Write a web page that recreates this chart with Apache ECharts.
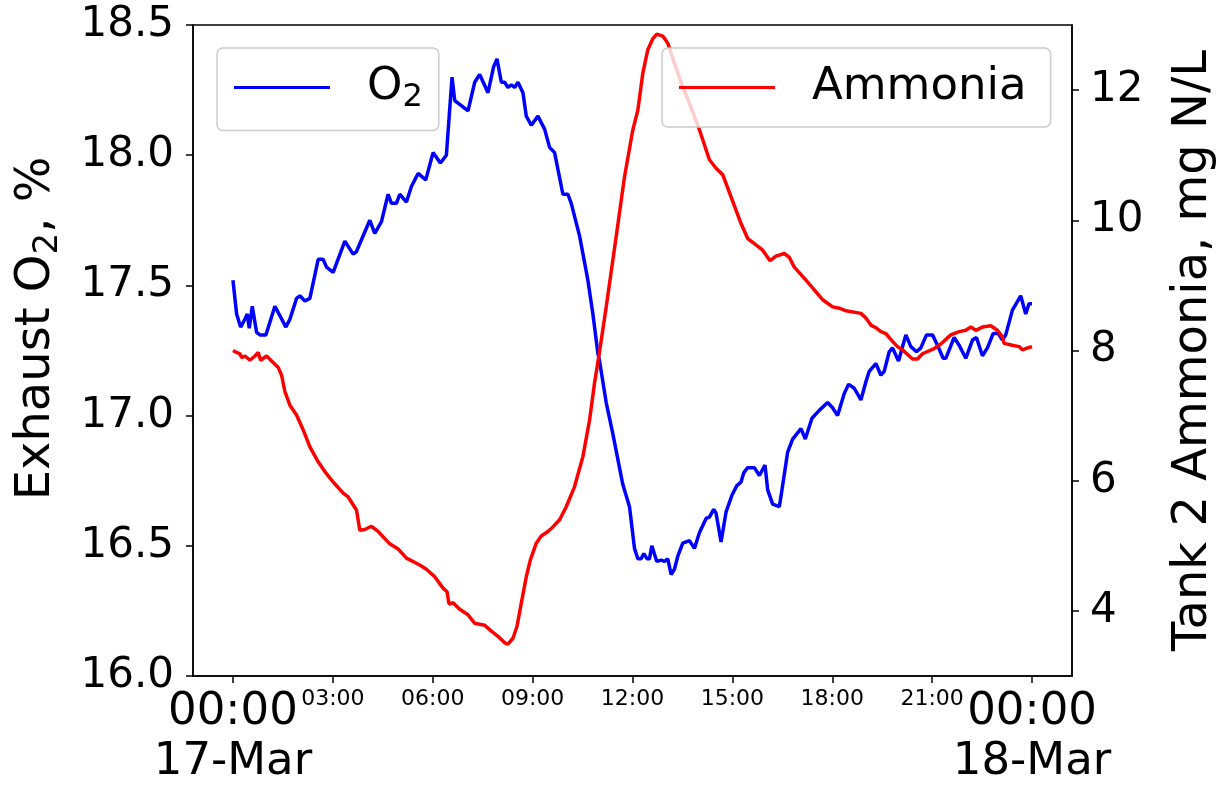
<!DOCTYPE html>
<html>
<head>
<meta charset="utf-8">
<script src="https://cdn.jsdelivr.net/npm/echarts@6/dist/echarts.min.js"></script>
<style>
html,body{margin:0;padding:0;background:#fff;}
#c{width:1227px;height:786px;}
</style>
</head>
<body>
<div id="c"></div>
<script>
// Hours since 00:00 17-Mar
var o2Hours = [0.00,0.11,0.23,0.36,0.43,0.49,0.58,0.71,0.81,0.99,1.26,1.59,1.71,1.91,2.01,2.16,2.31,2.56,2.71,2.81,3.01,3.36,3.61,3.71,4.11,4.26,4.46,4.66,4.76,4.91,5.01,5.21,5.36,5.56,5.79,6.01,6.23,6.41,6.58,6.66,6.86,7.06,7.26,7.41,7.66,7.83,7.93,8.06,8.16,8.26,8.36,8.46,8.56,8.71,8.81,8.96,9.16,9.36,9.51,9.66,9.91,10.06,10.16,10.41,10.66,10.81,10.96,11.01,11.21,11.41,11.71,11.91,12.06,12.16,12.26,12.34,12.44,12.51,12.58,12.73,12.86,12.96,13.06,13.16,13.26,13.36,13.51,13.71,13.86,14.01,14.21,14.31,14.44,14.51,14.66,14.81,14.99,15.13,15.26,15.34,15.46,15.66,15.81,15.98,16.06,16.21,16.41,16.49,16.66,16.81,17.06,17.19,17.39,17.61,17.86,18.01,18.16,18.36,18.49,18.66,18.86,19.01,19.11,19.31,19.46,19.56,19.71,19.81,19.99,20.21,20.36,20.53,20.66,20.83,21.01,21.16,21.33,21.41,21.66,21.81,22.01,22.21,22.33,22.51,22.66,22.83,22.99,23.11,23.21,23.41,23.66,23.81,23.91,24.00];
var o2Values = [17.52,17.39,17.34,17.37,17.39,17.335,17.42,17.32,17.31,17.31,17.42,17.34,17.37,17.45,17.46,17.44,17.45,17.60,17.60,17.57,17.55,17.67,17.62,17.63,17.75,17.70,17.745,17.85,17.815,17.815,17.85,17.82,17.88,17.93,17.905,18.01,17.97,18.00,18.30,18.21,18.19,18.17,18.28,18.31,18.24,18.34,18.37,18.28,18.28,18.26,18.27,18.26,18.28,18.24,18.15,18.115,18.15,18.10,18.03,18.01,17.85,17.85,17.815,17.69,17.52,17.39,17.24,17.21,17.05,16.93,16.735,16.65,16.49,16.45,16.45,16.47,16.45,16.45,16.50,16.44,16.445,16.44,16.45,16.39,16.41,16.46,16.51,16.52,16.49,16.55,16.605,16.61,16.64,16.625,16.515,16.63,16.695,16.73,16.745,16.78,16.80,16.80,16.77,16.81,16.715,16.66,16.65,16.715,16.86,16.91,16.95,16.91,16.99,17.02,17.05,17.03,17.00,17.085,17.12,17.105,17.06,17.13,17.17,17.20,17.155,17.17,17.245,17.26,17.21,17.31,17.265,17.245,17.26,17.31,17.31,17.27,17.22,17.22,17.30,17.27,17.22,17.29,17.30,17.23,17.26,17.315,17.315,17.29,17.31,17.405,17.46,17.39,17.43,17.43];

var nh3Hours = [0.00,0.11,0.21,0.26,0.36,0.51,0.66,0.76,0.83,1.01,1.16,1.36,1.46,1.56,1.71,1.91,2.11,2.31,2.56,2.76,3.01,3.31,3.46,3.71,3.81,3.96,4.16,4.36,4.71,4.96,5.21,5.61,5.81,6.06,6.31,6.43,6.49,6.61,6.81,7.06,7.26,7.56,7.76,7.96,8.16,8.26,8.41,8.53,8.66,8.81,8.93,9.11,9.26,9.46,9.61,9.81,10.01,10.26,10.51,10.71,10.86,11.01,11.21,11.51,11.76,12.01,12.16,12.31,12.46,12.61,12.73,12.91,13.06,13.26,13.51,13.71,14.01,14.31,14.51,14.71,14.96,15.26,15.46,15.66,15.91,16.13,16.31,16.56,16.71,16.86,17.21,17.51,17.71,18.01,18.21,18.41,18.86,19.01,19.16,19.31,19.46,19.61,19.81,19.96,20.11,20.41,20.56,20.71,21.06,21.26,21.56,21.81,22.01,22.16,22.31,22.51,22.76,22.96,23.11,23.16,23.41,23.61,23.71,23.81,24.00];
var nh3Values = [8.00,7.97,7.95,7.89,7.915,7.85,7.915,7.97,7.85,7.915,7.84,7.74,7.62,7.37,7.16,7.01,6.78,6.52,6.29,6.14,5.98,5.81,5.75,5.55,5.24,5.25,5.30,5.22,5.03,4.95,4.81,4.705,4.64,4.525,4.35,4.295,4.105,4.125,4.025,3.94,3.81,3.78,3.69,3.61,3.51,3.49,3.58,3.76,4.12,4.525,4.78,5.04,5.15,5.22,5.29,5.40,5.60,5.91,6.37,6.93,7.50,7.98,8.67,9.75,10.67,11.39,11.69,12.26,12.62,12.79,12.86,12.83,12.72,12.41,12.05,11.80,11.39,10.93,10.80,10.70,10.36,9.95,9.72,9.64,9.54,9.38,9.45,9.49,9.43,9.28,9.08,8.90,8.78,8.67,8.65,8.61,8.57,8.50,8.39,8.35,8.29,8.26,8.14,8.06,8.01,7.87,7.87,7.95,8.03,8.10,8.24,8.29,8.31,8.36,8.31,8.36,8.38,8.31,8.21,8.11,8.08,8.06,8.01,8.03,8.06];

var xTickHours = [0,3,6,9,12,15,18,21,24];
var xMajorHours = [0,24];
var xMajorLabels = ['00:00\n17-Mar','00:00\n18-Mar'];
var xMinorHours = [3,6,9,12,15,18,21];
var xMinorLabels = ['03:00','06:00','09:00','12:00','15:00','18:00','21:00'];
var rightTicks = [4,6,8,10,12];

var seriesNames = ['O\u2082','Ammonia'];
var axisNames = ['Exhaust O\u2082, %','Tank 2 Ammonia, mg N/L'];

function pairs(xs, ys){ var out=[]; for (var i=0;i<xs.length;i++) out.push([xs[i], ys[i]]); return out; }
function lookup(hours, labels, v){ var i = hours.indexOf(Math.round(v)); return i >= 0 ? labels[i] : ''; }

var FONT = 'DejaVu Sans';
function subRich(text){
  // turn the subscript digit (U+2082) into a rich-text subscript fragment
  var parts = text.split('\u2082');
  if (parts.length === 1) return '{n|' + text + '}';
  return '{n|' + parts[0] + '}{s|2}{n|' + parts[1] + '}';
}

function legendFor(name, left, padRight){
  return {
    data: [name], left: left, top: 48, z: 10,
    padding: [17, padRight, 17, 17],
    icon: 'rect', itemWidth: 96, itemHeight: 3,
    backgroundColor: 'rgba(255,255,255,0.8)', borderColor: '#cccccc', borderWidth: 1.5, borderRadius: 6,
    formatter: function(n){ return subRich(n); },
    textStyle: {
      fontFamily: FONT, fontSize: 45, color: '#000', padding: [0,0,0,32],
      rich: {
        n: {fontFamily: FONT, fontSize: 45, lineHeight: 52, color: '#000'},
        s: {fontFamily: FONT, fontSize: 32, lineHeight: 28, color: '#000', verticalAlign: 'bottom'}
      }
    }
  };
}

var baseX = {type: 'value', min: -1.2, max: 25.2, position: 'bottom', splitLine: {show: false}};

var chart = echarts.init(document.getElementById('c'));
chart.setOption({
  animation: false,
  backgroundColor: '#ffffff',
  textStyle: {fontFamily: FONT, color: '#000'},
  grid: {left: 193, right: 155, top: 25, bottom: 110, show: true, borderColor: '#000', borderWidth: 1.5, backgroundColor: 'transparent'},
  legend: [legendFor(seriesNames[0], 217, 16), legendFor(seriesNames[1], 662, 24)],
  xAxis: [
    Object.assign({}, baseX, {
      axisLine: {onZero: false, lineStyle: {color: '#000', width: 1.5}},
      axisTick: {show: true, length: 7, lineStyle: {color: '#000', width: 1.5}, customValues: xTickHours},
      axisLabel: {
        customValues: xMajorHours, margin: 11, color: '#000', fontFamily: FONT,
        showMinLabel: true, showMaxLabel: true,
        formatter: function(v){
          return lookup(xMajorHours, xMajorLabels, v).split('\n').map(function(s){ return '{b|' + s + '}'; }).join('\n');
        },
        rich: {b: {fontSize: 45, lineHeight: 50, fontFamily: FONT, color: '#000'}}
      }
    }),
    Object.assign({}, baseX, {
      axisLine: {show: false, onZero: false},
      axisTick: {show: false},
      axisLabel: {
        customValues: xMinorHours, margin: 11, color: '#000', fontFamily: FONT, fontSize: 22, lineHeight: 24,
        showMinLabel: true, showMaxLabel: true,
        formatter: function(v){ return lookup(xMinorHours, xMinorLabels, v); }
      }
    })
  ],
  yAxis: [
    {
      type: 'value', min: 16, max: 18.5, interval: 0.5, position: 'left',
      name: subRich(axisNames[0]), nameLocation: 'middle', nameRotate: 90, nameGap: 128,
      nameTextStyle: {
        fontSize: 48, fontFamily: FONT, color: '#000', padding: [0,0,0,44],
        rich: {
          n: {fontFamily: FONT, fontSize: 48, lineHeight: 56, color: '#000'},
          s: {fontFamily: FONT, fontSize: 34, lineHeight: 32, color: '#000', verticalAlign: 'bottom'}
        }
      },
      axisLine: {show: true, onZero: false, lineStyle: {color: '#000', width: 1.5}},
      axisTick: {show: true, length: 7, lineStyle: {color: '#000', width: 1.5}},
      splitLine: {show: false},
      axisLabel: {fontSize: 42, color: '#000', fontFamily: FONT, margin: 19, formatter: function(v){ return v.toFixed(1); }}
    },
    {
      type: 'value', min: 3, max: 13, position: 'right',
      name: axisNames[1], nameLocation: 'middle', nameRotate: 90, nameGap: 98,
      nameTextStyle: {fontSize: 48, fontFamily: FONT, color: '#000'},
      axisLine: {show: true, onZero: false, lineStyle: {color: '#000', width: 1.5}},
      axisTick: {show: true, length: 7, lineStyle: {color: '#000', width: 1.5}, customValues: rightTicks},
      splitLine: {show: false},
      axisLabel: {fontSize: 42, color: '#000', fontFamily: FONT, margin: 18, customValues: rightTicks}
    }
  ],
  series: [
    {
      name: seriesNames[0], type: 'line', xAxisIndex: 0, yAxisIndex: 0, showSymbol: false, symbol: 'none',
      data: pairs(o2Hours, o2Values),
      color: '#0000ff', lineStyle: {color: '#0000ff', width: 3.5}, z: 2
    },
    {
      name: seriesNames[1], type: 'line', xAxisIndex: 0, yAxisIndex: 1, showSymbol: false, symbol: 'none',
      data: pairs(nh3Hours, nh3Values),
      color: '#ff0000', lineStyle: {color: '#ff0000', width: 3.5}, z: 3
    }
  ]
});
</script>
</body>
</html>
